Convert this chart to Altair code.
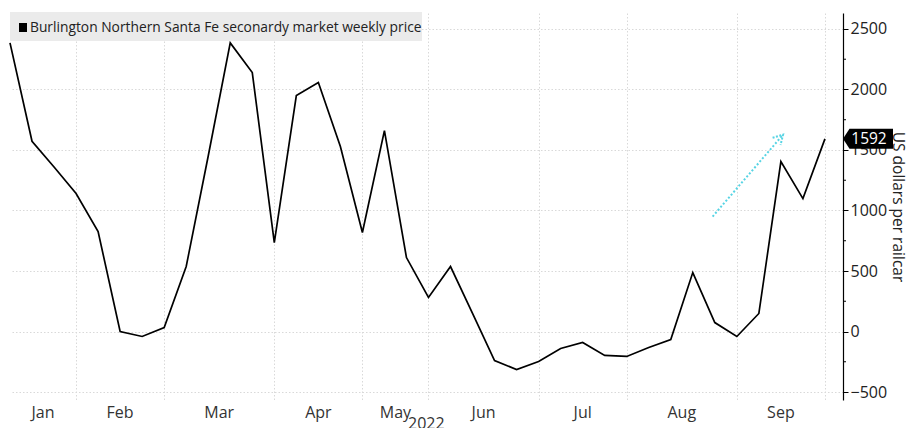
import altair as alt
import pandas as pd

# ---- data ----
week_index = list(range(38))
price = [2385, 1572, 1360, 1140, 826, 0, -41, 33, 537, 1450,
         2385, 2140, 735, 1950, 2057, 1528, 818, 1660, 611, 281,
         537, 150, -240, -314, -248, -140, -91, -198, -206, -132,
         -66, 487, 74, -41, 149, 1404, 1098, 1592]
month_names = ["Jan", "Feb", "Mar", "Apr", "May", "Jun", "Jul", "Aug", "Sep"]
month_bounds = [0, 3, 7, 12, 16, 19, 24, 28, 33, 37]
y_ticks = [-500, 0, 500, 1000, 1500, 2000, 2500]
y_minor = [-250, 250, 750, 1250, 1750, 2250]
year_label = ["2022"]
year_pos = [18.9]
last_value = [1592]
arrow_idx = [31.9, 35.1]
arrow_price = [950, 1627]
legend_text = "Burlington Northern Santa Fe seconardy market weekly price"

W, H = 833, 387
FONT = "Open Sans"
xs = alt.Scale(domain=[0, 37.82], nice=False, zero=False)
ys = alt.Scale(domain=[-566, 2632], nice=False, zero=False)

df = pd.DataFrame({"idx": week_index, "price": price})
months_df = pd.DataFrame({
    "idx": [(a + b) / 2 for a, b in zip(month_bounds[:-1], month_bounds[1:])],
    "label": month_names,
})
year_df = pd.DataFrame({"idx": year_pos, "label": year_label})
minor_df = pd.DataFrame({"price": y_minor})
last_df = pd.DataFrame({"price": last_value, "label": [str(v) for v in last_value]})
arrow_df = pd.DataFrame({"idx": arrow_idx, "price": arrow_price})
arrow_end = arrow_df.tail(1)
dummy = pd.DataFrame({"a": [0]})

GRID = "#d9d9d9"

line = alt.Chart(df).mark_line(color="black", strokeWidth=1.7).encode(
    x=alt.X("idx:Q", scale=xs, axis=alt.Axis(
        values=month_bounds[1:], grid=True, gridDash=[1.5, 2], gridColor=GRID,
        labels=False, ticks=False, domain=False, title=None)),
    y=alt.Y("price:Q", scale=ys, axis=alt.Axis(
        orient="right", values=y_ticks, format="d", grid=True, gridDash=[1.5, 2],
        gridColor=GRID,
        domainColor="black", domainWidth=1.2, tickColor="black", tickSize=5,
        labelFontSize=16, labelFont=FONT, labelColor="#222", labelPadding=2,
        title="US dollars per railcar", titleFontSize=15.5, titleFont=FONT,
        titleFontWeight="normal", titleColor="#222", titlePadding=3)),
)

minor = alt.Chart(minor_df).mark_rule(color="black", strokeWidth=1).encode(
    x=alt.value(W), x2=alt.value(W + 3),
    y=alt.Y("price:Q", scale=ys),
)

months = alt.Chart(months_df).mark_text(
    fontSize=16, font=FONT, color="#333", baseline="middle").encode(
    x=alt.X("idx:Q", scale=xs), y=alt.value(H + 13), text="label:N")

year = alt.Chart(year_df).mark_text(
    fontSize=16, font=FONT, color="#333", baseline="middle").encode(
    x=alt.X("idx:Q", scale=xs), y=alt.value(H + 24), text="label:N")

arrow = alt.Chart(arrow_df).mark_line(
    color="#56d4e4", strokeWidth=2, strokeDash=[2, 2]).encode(
    x=alt.X("idx:Q", scale=xs), y=alt.Y("price:Q", scale=ys))

arrow_head = alt.Chart(arrow_end).mark_point(
    shape="M -1 0.3 L 0 0 L -0.25 1", size=440, filled=False, opacity=1,
    color="#56d4e4", strokeWidth=2, strokeDash=[2, 1.5]).encode(
    x=alt.X("idx:Q", scale=xs), y=alt.Y("price:Q", scale=ys))

box = alt.Chart(last_df).mark_point(
    shape="M -1 0 L -0.74 -0.4 L 1 -0.4 L 1 0.4 L -0.74 0.4 Z",
    size=2500, filled=True, fill="black", opacity=1, strokeWidth=0).encode(
    x=alt.value(W + 25), y=alt.Y("price:Q", scale=ys))

box_text = alt.Chart(last_df).mark_text(
    fontSize=15.5, font=FONT, color="white", baseline="middle", align="center").encode(
    x=alt.value(W + 26), y=alt.Y("price:Q", scale=ys), text="label:N")

leg_bg = alt.Chart(dummy).mark_rect(color="#ebebeb").encode(
    x=alt.value(0), x2=alt.value(412), y=alt.value(-1), y2=alt.value(28))
leg_sq = alt.Chart(dummy).mark_rect(color="black").encode(
    x=alt.value(9), x2=alt.value(17), y=alt.value(10), y2=alt.value(19))
leg_txt = alt.Chart(dummy).mark_text(
    fontSize=13.8, font=FONT, color="#222", align="left", baseline="middle").encode(
    x=alt.value(20), y=alt.value(14.5), text=alt.value(legend_text))

chart = alt.layer(
    leg_bg, line, minor, months, year, arrow, arrow_head, box, box_text, leg_sq, leg_txt
).properties(
    width=W, height=H,
    padding={"left": 2, "top": 5, "right": 66, "bottom": 28},
    autosize=alt.AutoSizeParams(type="none"),
    background="white",
).configure_view(stroke=None)

chart.save("out.html", embed_options={"renderer": "svg", "actions": False})
